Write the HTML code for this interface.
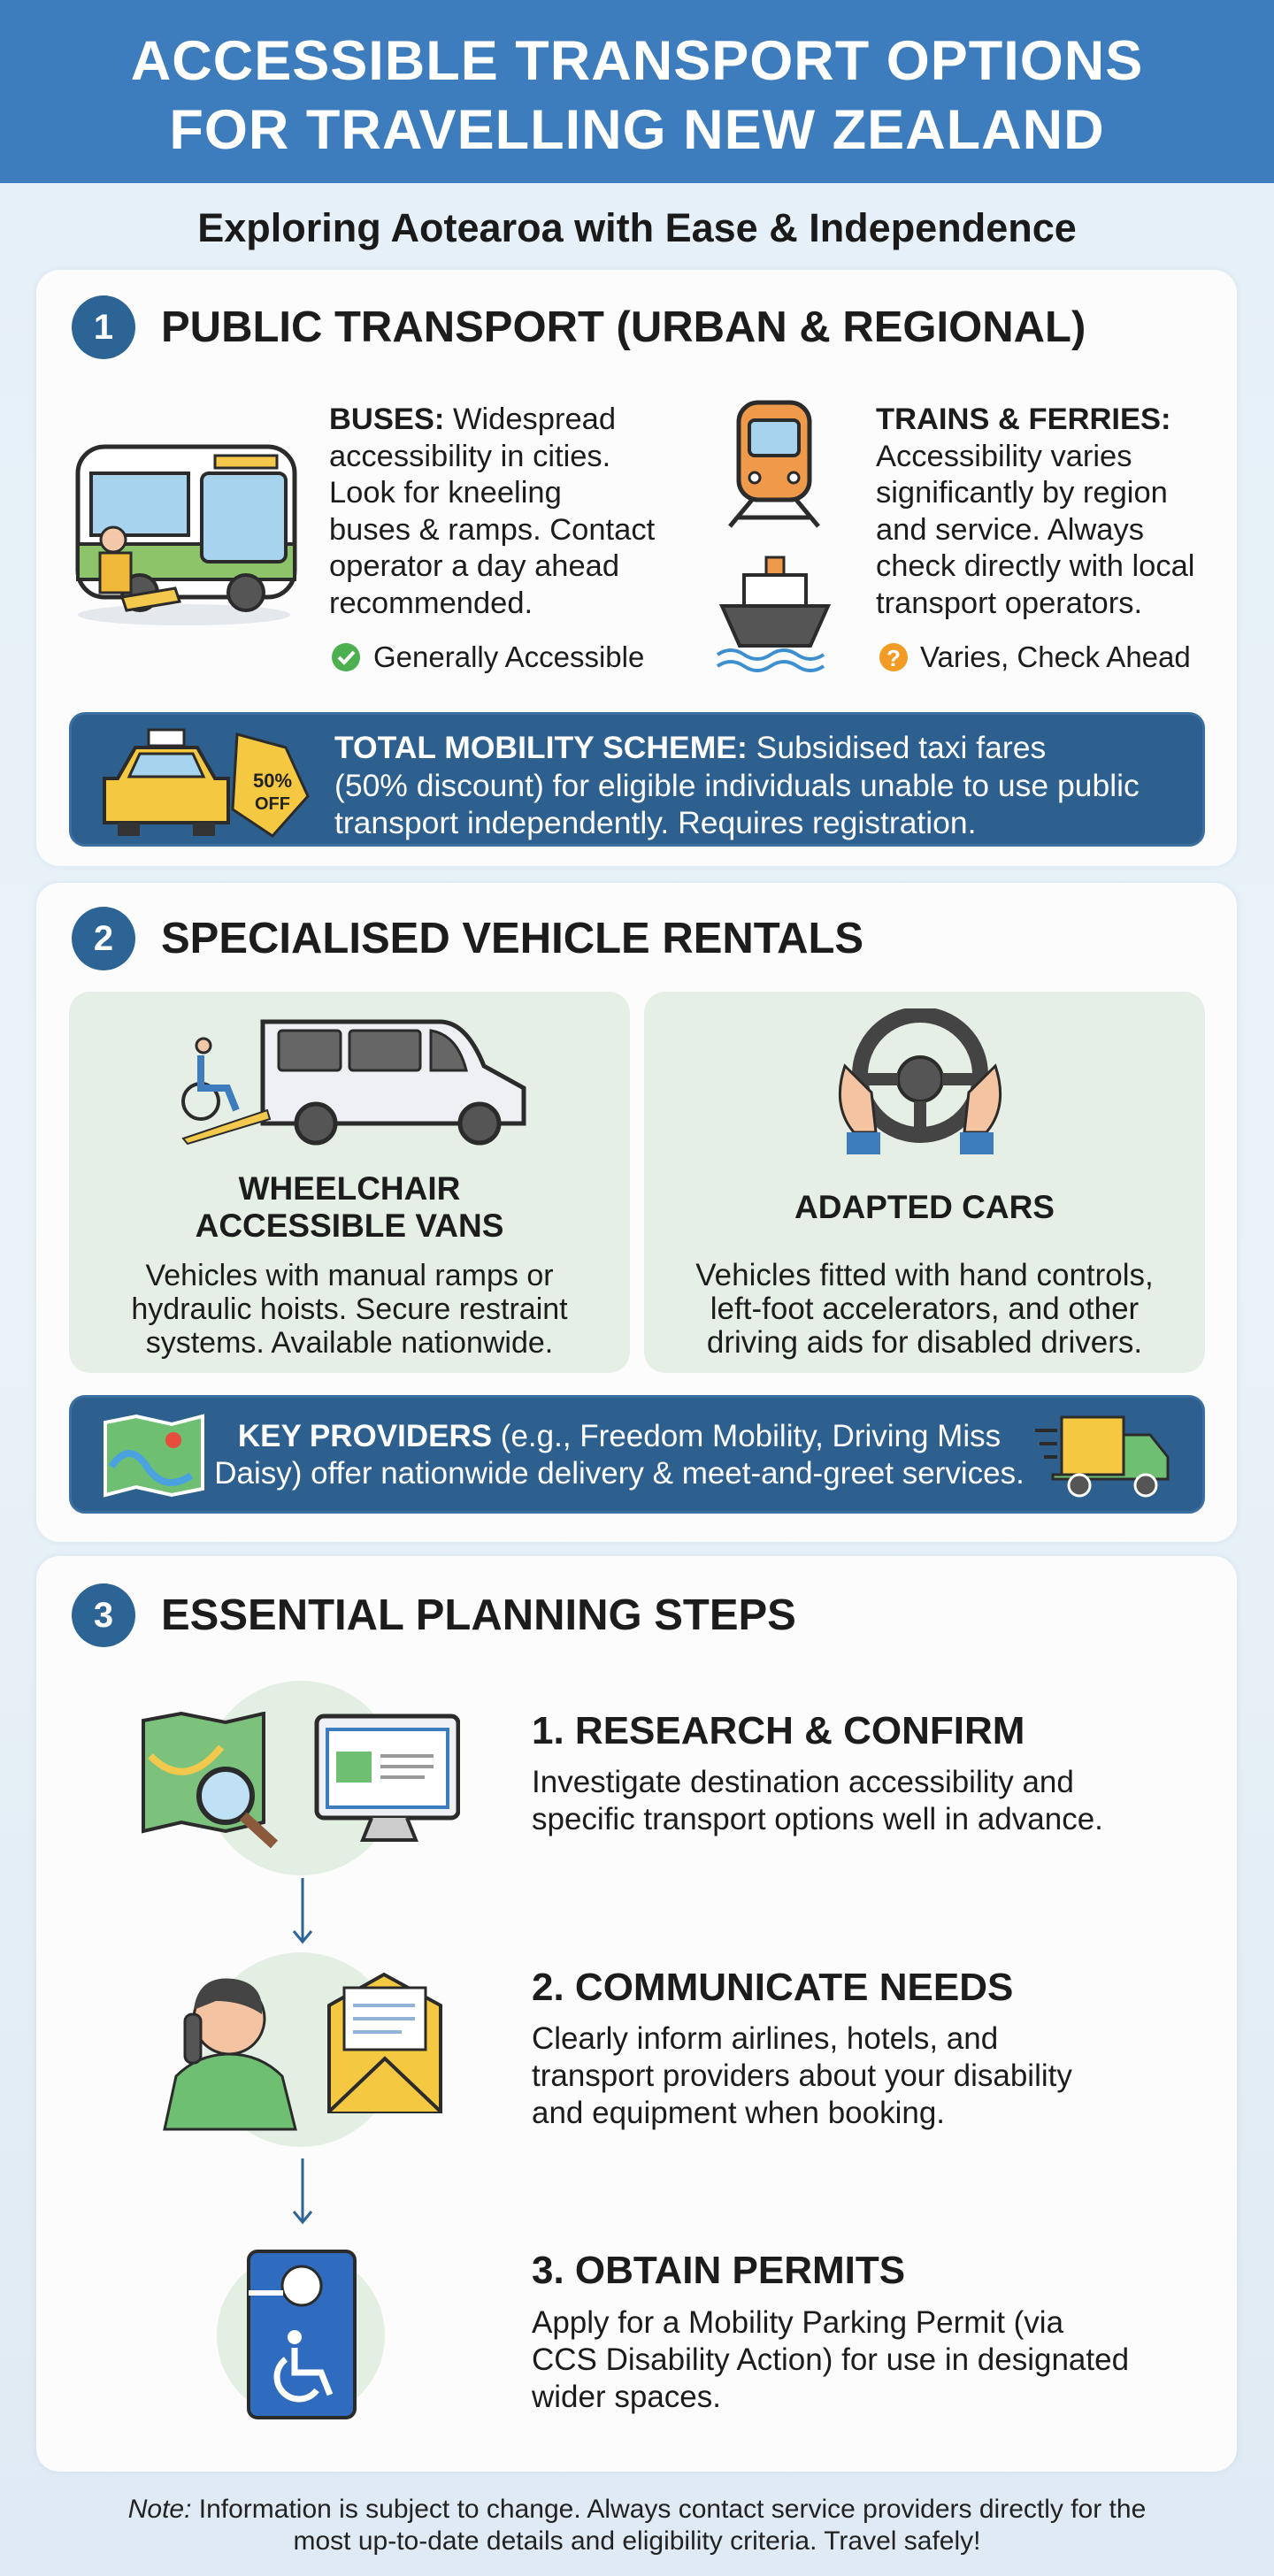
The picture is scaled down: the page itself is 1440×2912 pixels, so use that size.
<!DOCTYPE html>
<html><head><meta charset="utf-8"><style>
*{margin:0;padding:0;box-sizing:border-box}
body{width:1440px;height:2912px;position:relative;overflow:hidden;font-family:"Liberation Sans",sans-serif;color:#1c1c1c;background:linear-gradient(180deg,#e6f0f8 0%,#e9f2f7 50%,#dfeaf4 100%)}
.a{position:absolute}
.hdr{left:0;top:0;width:1440px;height:207px;background:#3d7dbd}
.t{color:#fff;font-weight:bold;font-size:63px;text-align:center;width:1440px;left:0;line-height:74px;letter-spacing:1px}
.card{background:#fbfcfb;border-radius:26px;box-shadow:0 0 8px rgba(120,150,180,.15)}
.num{width:72px;height:72px;border-radius:50%;background:#2c6495;color:#fff;font-weight:bold;font-size:40px;text-align:center;line-height:72px}
.h{font-weight:bold;font-size:49px;line-height:56px;white-space:nowrap}
.b{font-size:34.5px;line-height:41.5px;white-space:nowrap}
.bar{background:#2d5f8f;border-radius:18px;border:3px solid #3b6f9f}
.w{color:#fff}
.sub{background:#e5efe6;border-radius:24px}
.c{text-align:center}
.st{font-weight:bold;font-size:44px;line-height:50px;white-space:nowrap}
.sb{font-size:35px;line-height:42px;white-space:nowrap}
</style></head><body>
<div class="a hdr"></div>
<div class="a t" style="top:32px">ACCESSIBLE TRANSPORT OPTIONS</div>
<div class="a t" style="top:110px">FOR TRAVELLING NEW ZEALAND</div>
<div class="a c" style="left:0;width:1440px;top:233px;font-size:45px;line-height:50px;font-weight:bold;color:#1a1a1a">Exploring Aotearoa with Ease &amp; Independence</div>

<!-- card 1 -->
<div class="a card" style="left:41px;top:305px;width:1357px;height:674px"></div>
<div class="a num" style="left:81px;top:334px">1</div>
<div class="a h" style="left:182px;top:342px">PUBLIC TRANSPORT (URBAN &amp; REGIONAL)</div>
<svg class="a" style="left:78px;top:495px" width="265" height="215" viewBox="0 0 265 215">
<ellipse cx="130" cy="200" rx="120" ry="12" fill="#e5e8ec"/>
<rect x="10" y="10" width="245" height="170" rx="30" fill="#fff" stroke="#2b2b2b" stroke-width="5"/>
<rect x="10" y="120" width="245" height="40" fill="#8dc46a" stroke="#2b2b2b" stroke-width="4"/>
<rect x="25" y="40" width="110" height="70" fill="#a7d3ee" stroke="#2b2b2b" stroke-width="4"/>
<rect x="150" y="40" width="95" height="100" rx="8" fill="#a7d3ee" stroke="#2b2b2b" stroke-width="4"/>
<rect x="165" y="20" width="70" height="14" fill="#f5c74a" stroke="#2b2b2b" stroke-width="3"/>
<circle cx="80" cy="175" r="20" fill="#555" stroke="#2b2b2b" stroke-width="4"/>
<circle cx="200" cy="175" r="20" fill="#555" stroke="#2b2b2b" stroke-width="4"/>
<circle cx="50" cy="115" r="14" fill="#f2c8a8" stroke="#2b2b2b" stroke-width="3"/>
<path d="M35 130 h35 v45 h-35z" fill="#f0b93a" stroke="#2b2b2b" stroke-width="3"/>
<path d="M60 180 l60 -10 l5 15 l-60 10z" fill="#f2c94c" stroke="#2b2b2b" stroke-width="3"/>
</svg>
<div class="a b" style="left:372px;top:454px"><b>BUSES:</b> Widespread<br>accessibility in cities.<br>Look for kneeling<br>buses &amp; ramps. Contact<br>operator a day ahead<br>recommended.</div>
<svg class="a" style="left:374px;top:726px" width="34" height="34"><circle cx="17" cy="17" r="16" fill="#4caf50"/><path d="M9 17 l6 6 l11 -12" stroke="#fff" stroke-width="4" fill="none"/></svg>
<div class="a b" style="left:422px;top:722px;font-size:33px">Generally Accessible</div>
<svg class="a" style="left:815px;top:445px" width="120" height="155" viewBox="0 0 120 155">
<rect x="20" y="10" width="80" height="110" rx="22" fill="#ef9a4a" stroke="#2b2b2b" stroke-width="5"/>
<rect x="32" y="30" width="56" height="40" rx="6" fill="#a7d3ee" stroke="#2b2b2b" stroke-width="4"/>
<circle cx="38" cy="95" r="6" fill="#fff" stroke="#2b2b2b" stroke-width="3"/><circle cx="82" cy="95" r="6" fill="#fff" stroke="#2b2b2b" stroke-width="3"/>
<path d="M35 120 L10 150 M85 120 L110 150 M20 140 H100" stroke="#2b2b2b" stroke-width="5"/>
</svg>
<svg class="a" style="left:806px;top:625px" width="140" height="135" viewBox="0 0 140 135">
<rect x="60" y="5" width="20" height="20" fill="#ef9a4a" stroke="#2b2b2b" stroke-width="3"/>
<rect x="35" y="25" width="70" height="35" fill="#fff" stroke="#2b2b2b" stroke-width="4"/>
<path d="M10 60 H130 L110 105 H30z" fill="#555" stroke="#2b2b2b" stroke-width="4"/>
<path d="M5 115 q15 -10 30 0 t30 0 t30 0 t30 0 M5 128 q15 -10 30 0 t30 0 t30 0 t30 0" stroke="#3d8fd0" stroke-width="4" fill="none"/>
</svg>
<div class="a b" style="left:990px;top:454px"><b>TRAINS &amp; FERRIES:</b><br>Accessibility varies<br>significantly by region<br>and service. Always<br>check directly with local<br>transport operators.</div>
<svg class="a" style="left:993px;top:726px" width="34" height="34"><circle cx="17" cy="17" r="16" fill="#f39c25"/><text x="17" y="27" font-size="26" font-family="Liberation Sans" font-weight="bold" fill="#fff" text-anchor="middle">?</text></svg>
<div class="a b" style="left:1040px;top:722px;font-size:33px">Varies, Check Ahead</div>
<div class="a bar" style="left:78px;top:805px;width:1284px;height:152px"></div>
<svg class="a" style="left:108px;top:820px" width="245" height="128" viewBox="0 0 245 128">
<rect x="60" y="5" width="40" height="18" fill="#fff" stroke="#2b2b2b" stroke-width="3"/>
<path d="M25 60 L45 25 H115 L135 60 H150 V110 H10 V60z" fill="#f5c842" stroke="#2b2b2b" stroke-width="4"/>
<path d="M50 32 H110 L122 58 H38z" fill="#a7d3ee" stroke="#2b2b2b" stroke-width="3"/>
<rect x="25" y="110" width="25" height="15" fill="#333"/><rect x="110" y="110" width="25" height="15" fill="#333"/>
<path d="M160 10 L215 25 L240 80 L200 125 L155 95z" fill="#f5c842" stroke="#2b2b2b" stroke-width="3"/>
<text x="200" y="70" font-size="22" font-weight="bold" font-family="Liberation Sans" text-anchor="middle" fill="#222">50%</text>
<text x="200" y="95" font-size="20" font-weight="bold" font-family="Liberation Sans" text-anchor="middle" fill="#222">OFF</text>
</svg>
<div class="a b w" style="left:378px;top:824px;line-height:42.5px;font-size:35.5px"><b>TOTAL MOBILITY SCHEME:</b> Subsidised taxi fares<br>(50% discount) for eligible individuals unable to use public<br>transport independently. Requires registration.</div>

<!-- card 2 -->
<div class="a card" style="left:41px;top:998px;width:1357px;height:745px"></div>
<div class="a num" style="left:81px;top:1025px">2</div>
<div class="a h" style="left:182px;top:1033px">SPECIALISED VEHICLE RENTALS</div>
<div class="a sub" style="left:78px;top:1121px;width:634px;height:431px"></div>
<div class="a sub" style="left:728px;top:1121px;width:634px;height:431px"></div>
<svg class="a" style="left:197px;top:1145px" width="405" height="150" viewBox="0 0 405 150">
<path d="M100 10 H300 Q330 10 350 60 L395 85 V125 H100z" fill="#eef0f3" stroke="#2b2b2b" stroke-width="5"/>
<rect x="118" y="20" width="70" height="45" rx="4" fill="#666" stroke="#2b2b2b" stroke-width="3"/>
<rect x="198" y="20" width="80" height="45" rx="4" fill="#666" stroke="#2b2b2b" stroke-width="3"/>
<path d="M290 20 Q320 25 330 65 H290z" fill="#666" stroke="#2b2b2b" stroke-width="3"/>
<circle cx="160" cy="125" r="22" fill="#555" stroke="#2b2b2b" stroke-width="5"/><circle cx="345" cy="125" r="22" fill="#555" stroke="#2b2b2b" stroke-width="5"/>
<path d="M10 142 L105 110 L108 120 L15 148z" fill="#f2c94c" stroke="#2b2b2b" stroke-width="2"/>
<circle cx="33" cy="37" r="8" fill="#f2c8a8" stroke="#2b2b2b" stroke-width="3"/>
<circle cx="30" cy="100" r="20" fill="none" stroke="#2b2b2b" stroke-width="4"/>
<path d="M30 48 V85 H60 L70 110" stroke="#3d7dbd" stroke-width="8" fill="none"/>
</svg>
<svg class="a" style="left:935px;top:1140px" width="210" height="170" viewBox="0 0 210 170">
<circle cx="105" cy="75" r="68" fill="none" stroke="#444" stroke-width="18"/>
<circle cx="105" cy="80" r="25" fill="#555" stroke="#2b2b2b" stroke-width="4"/>
<path d="M40 80 H80 M130 80 H170 M105 105 V140" stroke="#444" stroke-width="14"/>
<path d="M20 65 Q5 110 30 140 L55 140 L50 95z" fill="#f4c3a1" stroke="#2b2b2b" stroke-width="3"/>
<path d="M190 65 Q205 110 180 140 L155 140 L160 95z" fill="#f4c3a1" stroke="#2b2b2b" stroke-width="3"/>
<rect x="22" y="140" width="38" height="25" fill="#3d7dbd"/><rect x="150" y="140" width="38" height="25" fill="#3d7dbd"/>
</svg>
<div class="a c" style="left:78px;width:634px;top:1323px;font-weight:bold;font-size:37px;line-height:42px">WHEELCHAIR<br>ACCESSIBLE VANS</div>
<div class="a c" style="left:728px;width:634px;top:1344px;font-weight:bold;font-size:37px;line-height:42px">ADAPTED CARS</div>
<div class="a c b" style="left:78px;width:634px;top:1423px;line-height:38px;font-size:34px">Vehicles with manual ramps or<br>hydraulic hoists. Secure restraint<br>systems. Available nationwide.</div>
<div class="a c b" style="left:728px;width:634px;top:1423px;line-height:38px;font-size:35px">Vehicles fitted with hand controls,<br>left-foot accelerators, and other<br>driving aids for disabled drivers.</div>
<div class="a bar" style="left:78px;top:1577px;width:1284px;height:134px"></div>
<svg class="a" style="left:116px;top:1598px" width="116" height="95" viewBox="0 0 116 95">
<path d="M3 10 L38 3 L78 12 L113 3 V85 L78 92 L38 83 L3 92z" fill="#6fbf73" stroke="#fff" stroke-width="4"/>
<path d="M10 60 Q30 30 50 60 T100 70" stroke="#4aa3df" stroke-width="8" fill="none"/>
<circle cx="80" cy="30" r="9" fill="#e74c3c"/>
</svg>
<div class="a b w c" style="left:230px;width:940px;top:1603px;line-height:42px;font-size:35px"><b>KEY PROVIDERS</b> (e.g., Freedom Mobility, Driving Miss<br>Daisy) offer nationwide delivery &amp; meet-and-greet services.</div>
<svg class="a" style="left:1170px;top:1597px" width="155" height="100" viewBox="0 0 155 100">
<rect x="30" y="5" width="70" height="65" fill="#f5c842" stroke="#2b2b2b" stroke-width="3"/>
<path d="M100 25 H130 L150 50 V75 H20 V70 H100z" fill="#6fbf73" stroke="#2b2b2b" stroke-width="3"/>
<circle cx="50" cy="82" r="12" fill="#555" stroke="#fff" stroke-width="3"/><circle cx="125" cy="82" r="12" fill="#555" stroke="#fff" stroke-width="3"/>
<path d="M0 20 H25 M5 35 H25 M10 50 H25" stroke="#2b2b2b" stroke-width="4"/>
</svg>

<!-- card 3 -->
<div class="a card" style="left:41px;top:1759px;width:1357px;height:1035px"></div>
<div class="a num" style="left:81px;top:1790px">3</div>
<div class="a h" style="left:182px;top:1798px">ESSENTIAL PLANNING STEPS</div>
<div class="a" style="left:230px;top:1900px;width:220px;height:220px;border-radius:50%;background:#e4efe4"></div>
<div class="a" style="left:230px;top:2207px;width:220px;height:220px;border-radius:50%;background:#e4efe4"></div>
<div class="a" style="left:245px;top:2545px;width:190px;height:190px;border-radius:50%;background:#e4efe4"></div>
<svg class="a" style="left:160px;top:1935px" width="360" height="160" viewBox="0 0 360 160">
<path d="M2 10 L45 2 L95 12 L138 2 V125 L95 135 L45 125 L2 135z" fill="#7cc27d" stroke="#2b2b2b" stroke-width="4"/>
<path d="M10 50 Q50 90 90 40" stroke="#f2c94c" stroke-width="8" fill="none"/>
<circle cx="95" cy="95" r="30" fill="#bfe0f5" stroke="#2b2b2b" stroke-width="6"/>
<path d="M115 118 L150 150" stroke="#8b5a3c" stroke-width="12"/>
<rect x="198" y="5" width="160" height="115" rx="8" fill="#eef0f3" stroke="#2b2b2b" stroke-width="5"/>
<rect x="210" y="20" width="136" height="88" fill="#fff" stroke="#3d7dbd" stroke-width="4"/>
<rect x="220" y="45" width="40" height="35" fill="#6fbf73"/>
<path d="M270 50 H330 M270 62 H330 M270 74 H320" stroke="#999" stroke-width="4"/>
<path d="M260 120 L250 145 H310 L300 120" fill="#ccc" stroke="#2b2b2b" stroke-width="4"/>
</svg>
<div class="a st" style="left:601px;top:1932px">1. RESEARCH &amp; CONFIRM</div>
<div class="a sb" style="left:601px;top:1994px">Investigate destination accessibility and<br>specific transport options well in advance.</div>
<svg class="a" style="left:330px;top:2123px" width="24" height="75"><path d="M12 0 V72 M2 60 L12 72 L22 60" stroke="#2c6495" stroke-width="3" fill="none"/></svg>
<svg class="a" style="left:184px;top:2227px" width="320" height="182" viewBox="0 0 320 182">
<path d="M2 180 L15 120 Q40 95 75 95 Q110 95 135 120 L150 180z" fill="#6fbf73" stroke="#2b2b2b" stroke-width="3"/>
<circle cx="75" cy="55" r="40" fill="#f4c3a1" stroke="#2b2b2b" stroke-width="3"/>
<path d="M35 45 Q40 5 80 10 Q115 15 112 50 Q90 35 60 35z" fill="#444"/>
<rect x="25" y="50" width="18" height="55" rx="8" fill="#555" stroke="#2b2b2b" stroke-width="3"/>
<path d="M188 40 L250 5 L314 40 V160 H188z" fill="#f5c842" stroke="#2b2b2b" stroke-width="4"/>
<rect x="205" y="20" width="92" height="70" fill="#fff" stroke="#2b2b2b" stroke-width="3"/>
<path d="M215 40 H285 M215 55 H285 M215 70 H270" stroke="#8fb3d9" stroke-width="4"/>
<path d="M188 160 L251 100 L314 160" fill="#f5c842" stroke="#2b2b2b" stroke-width="4"/>
</svg>
<div class="a st" style="left:601px;top:2222px">2. COMMUNICATE NEEDS</div>
<div class="a sb" style="left:601px;top:2284px">Clearly inform airlines, hotels, and<br>transport providers about your disability<br>and equipment when booking.</div>
<svg class="a" style="left:330px;top:2440px" width="24" height="75"><path d="M12 0 V72 M2 60 L12 72 L22 60" stroke="#2c6495" stroke-width="3" fill="none"/></svg>
<svg class="a" style="left:278px;top:2542px" width="126" height="194" viewBox="0 0 126 194">
<rect x="3" y="3" width="120" height="188" rx="10" fill="#2f6cc0" stroke="#2b2b2b" stroke-width="4"/>
<circle cx="63" cy="42" r="22" fill="#fff" stroke="#2b2b2b" stroke-width="3"/>
<path d="M3 50 H42" stroke="#fff" stroke-width="6"/>
<circle cx="55" cy="100" r="8" fill="#fff"/>
<path d="M55 112 V140 H85 L95 165 M45 125 A25 25 0 1 0 80 160" stroke="#fff" stroke-width="7" fill="none"/>
</svg>
<div class="a st" style="left:601px;top:2542px">3. OBTAIN PERMITS</div>
<div class="a sb" style="left:601px;top:2605px">Apply for a Mobility Parking Permit (via<br>CCS Disability Action) for use in designated<br>wider spaces.</div>

<div class="a c" style="left:0;width:1440px;top:2819px;font-size:30px;line-height:36px;color:#222"><i>Note:</i> Information is subject to change. Always contact service providers directly for the<br>most up-to-date details and eligibility criteria. Travel safely!</div>
</body></html>
